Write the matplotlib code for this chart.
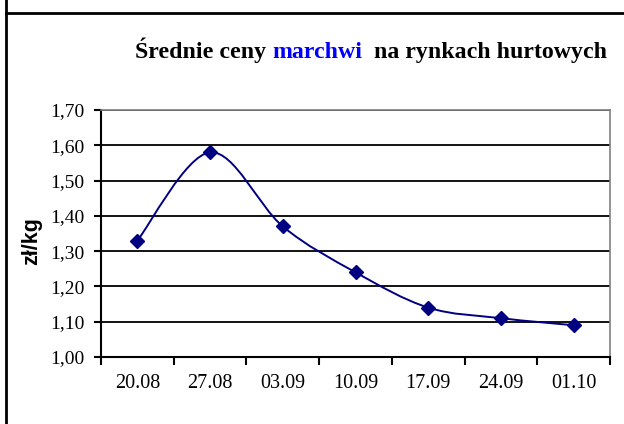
import matplotlib
matplotlib.use("Agg")
import matplotlib.pyplot as plt
from matplotlib.path import Path
import matplotlib.patches as patches
from matplotlib.lines import Line2D

dates = ["20.08", "27.08", "03.09", "10.09", "17.09", "24.09", "01.10"]
prices = [1.33, 1.58, 1.37, 1.24, 1.14, 1.11, 1.09]
yticks = [1.00, 1.10, 1.20, 1.30, 1.40, 1.50, 1.60, 1.70]

navy = "#000080"
serif = "Liberation Serif"

fig = plt.figure(figsize=(6.24, 4.24), dpi=100)
ax = fig.add_axes([0.1619, 0.158, 0.8157, 0.5826])

# smoothed line like excel (bezier through the points)
xs = list(range(len(prices)))
pts = list(zip(xs, prices))
verts = [pts[0]]
codes = [Path.MOVETO]
n = len(pts)
for i in range(n - 1):
    p0 = pts[max(i - 1, 0)]
    p1 = pts[i]
    p2 = pts[i + 1]
    p3 = pts[min(i + 2, n - 1)]
    c1 = (p1[0] + (p2[0] - p0[0]) / 6, p1[1] + (p2[1] - p0[1]) / 6)
    c2 = (p2[0] - (p3[0] - p1[0]) / 6, p2[1] - (p3[1] - p1[1]) / 6)
    verts += [c1, c2, p2]
    codes += [Path.CURVE4] * 3
ax.add_patch(patches.PathPatch(Path(verts, codes), facecolor="none",
                               edgecolor=navy, lw=1.4, zorder=3))
ax.plot(xs, prices, linestyle="none", marker="D", markersize=7.5,
        color=navy, zorder=4)

ax.set_xlim(-0.5, len(dates) - 0.5)
ax.set_ylim(1.0, 1.7)
ax.set_yticks(yticks)
ax.set_yticklabels([("%.2f" % v).replace(".", ",") for v in yticks],
                   fontfamily=serif, fontsize=14)
ax.set_xticks([i + 0.5 for i in range(-1, len(dates))], minor=False)
ax.set_xticklabels([])
ax.set_xticks(xs, minor=True)
ax.set_xticklabels(dates, minor=True, fontfamily=serif, fontsize=14.5)
ax.tick_params(axis="x", which="minor", length=0, pad=12)
ax.tick_params(axis="x", which="major", length=6, width=1.5, direction="out")
ax.tick_params(axis="y", length=5, width=1.5, direction="out", pad=7)

ax.grid(axis="y", color="black", lw=1.3)
ax.set_axisbelow(True)
for s in ["top", "right"]:
    ax.spines[s].set_color("#808080")
    ax.spines[s].set_linewidth(1.2)
for s in ["left", "bottom"]:
    ax.spines[s].set_color("black")
    ax.spines[s].set_linewidth(1.5)

ax.set_ylabel("zł/kg", fontfamily="Liberation Sans", fontweight="bold",
              fontsize=15.5)
ax.yaxis.set_label_coords(-0.116, 0.47)

# title in three pieces
ty = 0.863
fs = 17.2
t1 = fig.text(135 / 624, ty, "Średnie ceny ", fontfamily=serif,
              fontweight="bold", fontsize=fs, va="baseline")
fig.canvas.draw()
r = fig.canvas.get_renderer()
bb = t1.get_window_extent(r)
t2 = fig.text(bb.x1 / 624, ty, "marchwi", fontfamily=serif, color="#0000ff",
              fontweight="bold", fontsize=fs, va="baseline")
bb = t2.get_window_extent(r)
fig.text(bb.x1 / 624, ty, "  na rynkach hurtowych", fontfamily=serif,
         fontweight="bold", fontsize=fs, va="baseline")

# frame lines of the original sheet
fig.add_artist(Line2D([0.009, 0.009], [0, 1], color="black", lw=2,
                      transform=fig.transFigure))
fig.add_artist(Line2D([0.009, 1], [0.969, 0.969], color="black", lw=2,
                      transform=fig.transFigure))

fig.savefig("out.png", dpi=100)
